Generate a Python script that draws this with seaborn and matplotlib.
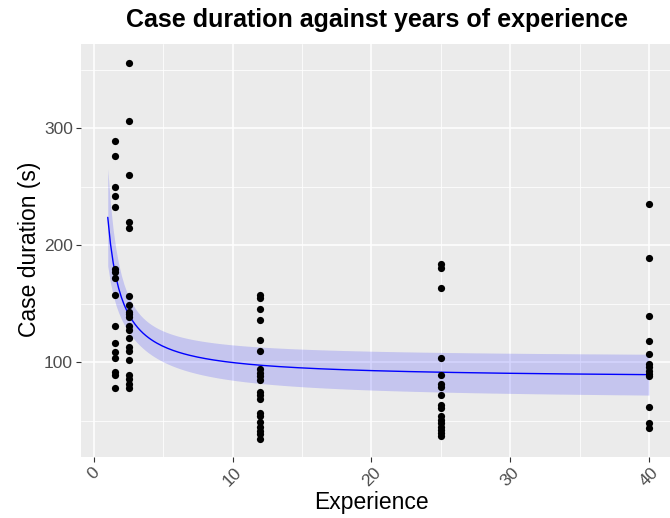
import numpy as np
import pandas as pd
import matplotlib
matplotlib.use("Agg")
import matplotlib.pyplot as plt
from matplotlib.ticker import MultipleLocator
import seaborn as sns

# Case durations (s) recorded for each level of experience (years)
dur_exp_1_5 = [289, 276, 250, 242, 233, 180, 177, 172, 158, 131, 117, 109, 104, 92, 89, 78]
dur_exp_2_5 = [356, 306, 260, 220, 215, 157, 149, 143, 141, 139, 131, 128, 121, 113, 110,
               102, 89, 86, 82, 78]
dur_exp_12 = [158, 155, 146, 136, 119, 110, 94, 91, 88, 85, 75, 72, 69, 57, 54, 49, 45, 41,
              39, 35]
dur_exp_25 = [184, 181, 164, 104, 89, 82, 79, 72, 64, 61, 54, 51, 48, 45, 42, 40, 37]
dur_exp_40 = [235, 189, 140, 118, 107, 99, 96, 93, 90, 88, 62, 48, 44]

experience_levels = [1.5, 2.5, 12, 25, 40]
durations = [dur_exp_1_5, dur_exp_2_5, dur_exp_12, dur_exp_25, dur_exp_40]
curve_span = (1, 40)

df = pd.DataFrame(
    [(x, y) for x, ys in zip(experience_levels, durations) for y in ys],
    columns=["Experience", "Duration"],
)

# Linear model: duration ~ 1/experience, with 95% confidence band
u = 1.0 / df["Experience"].to_numpy()
y = df["Duration"].to_numpy(dtype=float)
X = np.column_stack([np.ones_like(u), u])
beta, *_ = np.linalg.lstsq(X, y, rcond=None)
resid = y - X @ beta
n = len(y)
sigma2 = resid @ resid / (n - 2)
XtX_inv = np.linalg.inv(X.T @ X)
t_crit = 1.989  # t(0.975, df = n - 2)

grid_x = np.linspace(curve_span[0], curve_span[1], 200)
G = np.column_stack([np.ones_like(grid_x), 1.0 / grid_x])
fit = G @ beta
se = np.sqrt(np.einsum("ij,jk,ik->i", G, XtX_inv, G) * sigma2)
fit_df = pd.DataFrame({"Experience": grid_x, "fit": fit,
                       "lo": fit - t_crit * se, "hi": fit + t_crit * se})

sns.set_theme(style="darkgrid")
plt.rcParams.update({
    "font.family": ["Liberation Sans", "DejaVu Sans"],
    "axes.facecolor": "#EBEBEB",
    "figure.facecolor": "white",
    "grid.color": "white",
})

fig = plt.figure(figsize=(6.70, 5.18), dpi=100)
ax = fig.add_axes([80.7 / 670, 1 - 457.3 / 518, (676 - 80.7) / 670, (457.3 - 44) / 518])

ax.fill_between(fit_df["Experience"], fit_df["lo"], fit_df["hi"],
                color="#0000FF", alpha=0.16, linewidth=0, zorder=2)
sns.lineplot(data=fit_df, x="Experience", y="fit", color="#0000FF", linewidth=1.0,
             ax=ax, zorder=3)
sns.scatterplot(data=df, x="Experience", y="Duration", color="black", s=27,
                linewidth=0, ax=ax, zorder=4)

# Axis limits with ggplot-like 5% expansion
xr = (min(curve_span[0], df["Experience"].min()), max(curve_span[1], df["Experience"].max()))
yr = (df["Duration"].min(), df["Duration"].max())
xpad = 0.05 * (xr[1] - xr[0])
ypad = 0.05 * (yr[1] - yr[0])
ax.set_xlim(xr[0] - xpad, xr[1] + xpad)
ax.set_ylim(yr[0] - ypad, yr[1] + ypad)

ax.xaxis.set_major_locator(MultipleLocator(10))
ax.xaxis.set_minor_locator(MultipleLocator(5))
ax.yaxis.set_major_locator(MultipleLocator(100))
ax.yaxis.set_minor_locator(MultipleLocator(50))
ax.grid(which="major", color="white", linewidth=1.1)
ax.grid(which="minor", color="white", linewidth=0.55)
ax.set_axisbelow(True)
for s in ax.spines.values():
    s.set_visible(False)

ax.tick_params(axis="both", which="major", length=3.5, width=0.8, color="#333333",
               labelcolor="#4D4D4D", labelsize=12.5, pad=2)
ax.tick_params(axis="both", which="minor", length=0)
ax.tick_params(axis="x", bottom=True)
ax.tick_params(axis="y", left=True)
for lab in ax.get_xticklabels():
    lab.set_rotation(45)
    lab.set_ha("center")
    lab.set_va("top")

ax.set_xlabel("Experience", fontsize=16.5, color="black")
ax.set_ylabel("Case duration (s)", fontsize=16.5, color="black")
ax.xaxis.set_label_coords((371 - 80.7) / 595.3, (457.3 - 503) / 413.3)
ax.xaxis.label.set_va("center")
ax.yaxis.set_label_coords((30 - 80.7) / 595.3, (457.3 - 249) / 413.3)
ax.yaxis.label.set_va("center")

ax.set_title("Case duration against years of experience", fontsize=18, fontweight="bold",
             color="black", x=(377.5 - 80.7) / 595.3, y=(457.3 - 20) / 413.3, va="center",
             pad=0)

fig.savefig("out.png", dpi=100)
